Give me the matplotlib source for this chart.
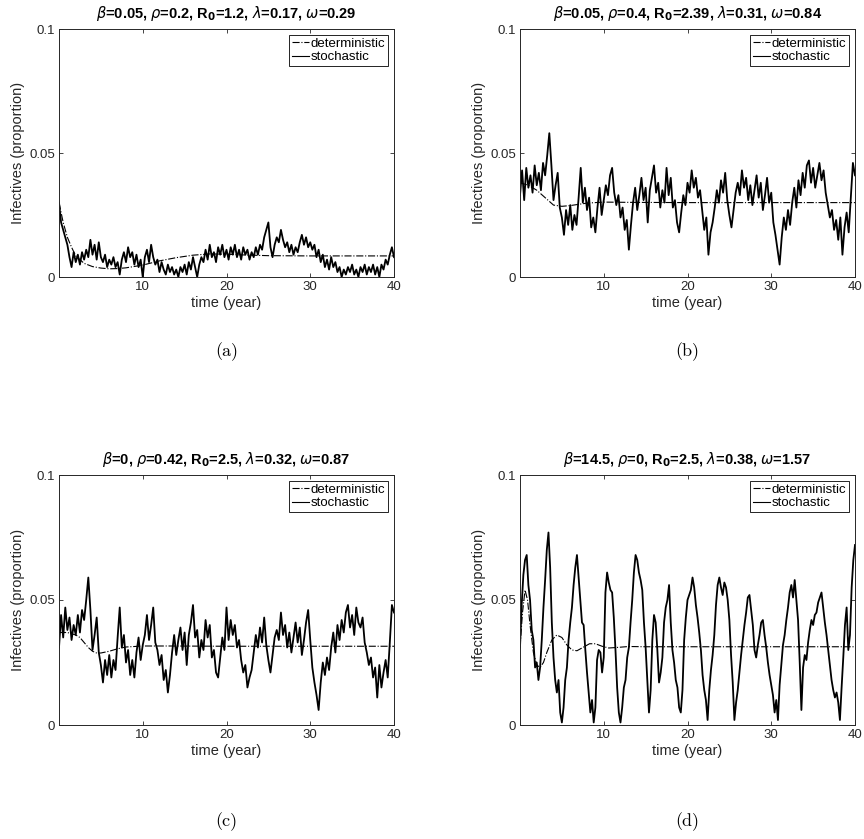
import numpy as np
import matplotlib.pyplot as plt

plt.rcParams['font.family'] = ['Liberation Sans', 'DejaVu Sans']
plt.rcParams['mathtext.fontset'] = 'dejavusans'

# Titles of the four panels
titles = [
    r"$\beta$=0.05, $\rho$=0.2, R$_\mathbf{0}$=1.2, $\lambda$=0.17, $\omega$=0.29",
    r"$\beta$=0.05, $\rho$=0.4, R$_\mathbf{0}$=2.39, $\lambda$=0.31, $\omega$=0.84",
    r"$\beta$=0, $\rho$=0.42, R$_\mathbf{0}$=2.5, $\lambda$=0.32, $\omega$=0.87",
    r"$\beta$=14.5, $\rho$=0, R$_\mathbf{0}$=2.5, $\lambda$=0.38, $\omega$=1.57",
]
captions = ["(a)", "(b)", "(c)", "(d)"]

# Deterministic curves (time, value)
det_a_t = [0, 0.5, 1, 1.5, 2, 3, 4, 5, 6, 7, 8, 10, 12, 14, 16, 18, 20, 22, 25, 30, 40]
det_a_v = [0.030, 0.022, 0.016, 0.012, 0.0085, 0.0055, 0.0042, 0.0036, 0.0033, 0.0034,
           0.0037, 0.0048, 0.0065, 0.0078, 0.0088, 0.0093, 0.0092, 0.0089, 0.0086, 0.0085, 0.0085]

det_b_t = [0, 1, 2, 3, 4, 5, 6, 7, 8, 10, 13, 20, 40]
det_b_v = [0.038, 0.037, 0.035, 0.032, 0.029, 0.0285, 0.0288, 0.0293, 0.0298, 0.0302, 0.0301, 0.030, 0.030]

det_c_t = [0, 1, 2, 2.5, 3, 3.5, 4, 4.5, 5, 6, 7, 8, 10, 13, 20, 40]
det_c_v = [0.037, 0.037, 0.036, 0.035, 0.033, 0.031, 0.0295, 0.0288, 0.0288, 0.0295,
           0.0305, 0.0312, 0.0316, 0.0316, 0.0315, 0.0315]

det_d_t = [0, 0.3, 0.6, 0.9, 1.2, 1.6, 2.0, 2.4, 2.8, 3.2, 3.8, 4.4, 5.0, 5.6, 6.2, 6.8,
           7.5, 8.3, 9.0, 9.8, 10.6, 11.5, 13, 15, 40]
det_d_v = [0.031, 0.045, 0.054, 0.050, 0.040, 0.029, 0.024, 0.023, 0.025, 0.029, 0.034,
           0.036, 0.035, 0.032, 0.030, 0.0297, 0.031, 0.0325, 0.0325, 0.0315, 0.0308,
           0.031, 0.0314, 0.0313, 0.0313]

# Stochastic paths, (a)-(c) every 0.25 year, (d) every 0.2 year
sto_a = [
    0.030, 0.022, 0.019, 0.016, 0.013, 0.008, 0.004, 0.010,
    0.006, 0.009, 0.005, 0.010, 0.007, 0.011, 0.008, 0.015,
    0.009, 0.013, 0.007, 0.014, 0.008, 0.006, 0.009, 0.004,
    0.007, 0.005, 0.008, 0.004, 0.006, 0.001, 0.007, 0.010,
    0.006, 0.012, 0.008, 0.010, 0.005, 0.009, 0.004, 0.007,
    0.000, 0.008, 0.011, 0.006, 0.013, 0.008, 0.005, 0.007,
    0.002, 0.006, 0.003, 0.001, 0.005, 0.002, 0.004, 0.001,
    0.003, 0.000, 0.004, 0.002, 0.005, 0.001, 0.006, 0.003,
    0.008, 0.004, 0.000, 0.005, 0.008, 0.006, 0.011, 0.007,
    0.013, 0.008, 0.010, 0.006, 0.012, 0.009, 0.013, 0.008,
    0.011, 0.007, 0.012, 0.009, 0.013, 0.008, 0.011, 0.007,
    0.012, 0.009, 0.011, 0.007, 0.010, 0.008, 0.012, 0.009,
    0.013, 0.011, 0.016, 0.019, 0.022, 0.012, 0.008, 0.013,
    0.016, 0.014, 0.019, 0.015, 0.012, 0.014, 0.010, 0.013,
    0.009, 0.012, 0.010, 0.014, 0.017, 0.013, 0.016, 0.012,
    0.014, 0.011, 0.013, 0.008, 0.011, 0.006, 0.009, 0.004,
    0.007, 0.003, 0.008, 0.004, 0.006, 0.002, 0.004, 0.000,
    0.003, 0.001, 0.004, 0.002, 0.005, 0.001, 0.003, 0.000,
    0.004, 0.002, 0.005, 0.001, 0.004, 0.002, 0.005, 0.001,
    0.004, 0.000, 0.005, 0.003, 0.007, 0.005, 0.009, 0.012,
    0.008,
]

sto_b = [
    0.033, 0.043, 0.031, 0.044, 0.036, 0.041, 0.034, 0.045,
    0.037, 0.042, 0.035, 0.046, 0.041, 0.049, 0.058, 0.045,
    0.031, 0.037, 0.042, 0.028, 0.024, 0.017, 0.027, 0.021,
    0.029, 0.019, 0.025, 0.021, 0.032, 0.044, 0.030, 0.036,
    0.027, 0.032, 0.020, 0.024, 0.018, 0.028, 0.036, 0.025,
    0.031, 0.037, 0.033, 0.041, 0.044, 0.034, 0.029, 0.033,
    0.024, 0.028, 0.019, 0.023, 0.011, 0.021, 0.030, 0.036,
    0.027, 0.033, 0.040, 0.031, 0.036, 0.022, 0.035, 0.040,
    0.045, 0.034, 0.038, 0.028, 0.035, 0.030, 0.044, 0.033,
    0.040, 0.028, 0.031, 0.022, 0.018, 0.026, 0.033, 0.029,
    0.038, 0.034, 0.043, 0.036, 0.040, 0.032, 0.035, 0.027,
    0.019, 0.024, 0.009, 0.018, 0.022, 0.028, 0.035, 0.030,
    0.039, 0.034, 0.042, 0.031, 0.025, 0.020, 0.027, 0.034,
    0.038, 0.033, 0.043, 0.036, 0.040, 0.031, 0.037, 0.029,
    0.035, 0.041, 0.032, 0.038, 0.027, 0.033, 0.040, 0.030,
    0.034, 0.022, 0.017, 0.011, 0.005, 0.016, 0.024, 0.019,
    0.027, 0.021, 0.030, 0.036, 0.028, 0.039, 0.033, 0.042,
    0.036, 0.045, 0.047, 0.038, 0.044, 0.036, 0.041, 0.046,
    0.039, 0.043, 0.034, 0.029, 0.024, 0.027, 0.019, 0.023,
    0.015, 0.024, 0.009, 0.020, 0.026, 0.018, 0.032, 0.046,
    0.041,
]

sto_c = [
    0.031, 0.044, 0.035, 0.047, 0.038, 0.043, 0.034, 0.040,
    0.036, 0.044, 0.037, 0.046, 0.042, 0.050, 0.059, 0.046,
    0.030, 0.036, 0.043, 0.029, 0.024, 0.017, 0.026, 0.020,
    0.028, 0.019, 0.026, 0.022, 0.035, 0.047, 0.031, 0.036,
    0.025, 0.030, 0.020, 0.026, 0.019, 0.029, 0.035, 0.026,
    0.032, 0.036, 0.044, 0.034, 0.040, 0.047, 0.033, 0.030,
    0.024, 0.028, 0.018, 0.022, 0.013, 0.020, 0.029, 0.036,
    0.028, 0.034, 0.039, 0.030, 0.037, 0.024, 0.036, 0.041,
    0.048, 0.035, 0.038, 0.027, 0.034, 0.030, 0.042, 0.035,
    0.040, 0.027, 0.030, 0.021, 0.019, 0.027, 0.035, 0.030,
    0.047, 0.034, 0.042, 0.036, 0.040, 0.031, 0.034, 0.026,
    0.021, 0.024, 0.015, 0.019, 0.022, 0.029, 0.036, 0.031,
    0.039, 0.033, 0.043, 0.032, 0.026, 0.021, 0.028, 0.035,
    0.038, 0.034, 0.045, 0.036, 0.040, 0.031, 0.037, 0.029,
    0.035, 0.041, 0.033, 0.039, 0.028, 0.034, 0.041, 0.046,
    0.034, 0.023, 0.017, 0.012, 0.006, 0.017, 0.025, 0.020,
    0.027, 0.022, 0.031, 0.037, 0.029, 0.040, 0.034, 0.042,
    0.037, 0.045, 0.048, 0.039, 0.044, 0.036, 0.047, 0.041,
    0.039, 0.043, 0.033, 0.029, 0.024, 0.027, 0.019, 0.023,
    0.011, 0.024, 0.015, 0.021, 0.026, 0.019, 0.033, 0.048,
    0.045,
]

sto_d = [
    0.031, 0.048, 0.060, 0.066, 0.068, 0.056, 0.050, 0.038, 0.034, 0.023,
    0.025, 0.018, 0.023, 0.034, 0.047, 0.058, 0.070, 0.077, 0.063, 0.041,
    0.027, 0.018, 0.013, 0.018, 0.005, 0.001, 0.007, 0.018, 0.023, 0.034,
    0.041, 0.047, 0.056, 0.063, 0.068, 0.059, 0.050, 0.041, 0.040, 0.030,
    0.021, 0.013, 0.005, 0.010, 0.001, 0.007, 0.026, 0.030, 0.029, 0.021,
    0.027, 0.053, 0.061, 0.057, 0.054, 0.053, 0.043, 0.030, 0.015, 0.005,
    0.001, 0.007, 0.015, 0.018, 0.027, 0.031, 0.041, 0.050, 0.061, 0.068,
    0.066, 0.061, 0.058, 0.054, 0.041, 0.031, 0.018, 0.005, 0.014, 0.034,
    0.044, 0.041, 0.030, 0.017, 0.021, 0.027, 0.041, 0.047, 0.050, 0.056,
    0.041, 0.030, 0.025, 0.018, 0.015, 0.007, 0.005, 0.014, 0.034, 0.043,
    0.050, 0.052, 0.054, 0.059, 0.055, 0.048, 0.043, 0.037, 0.030, 0.020,
    0.014, 0.010, 0.002, 0.014, 0.022, 0.028, 0.036, 0.048, 0.056, 0.059,
    0.055, 0.052, 0.057, 0.055, 0.050, 0.042, 0.028, 0.017, 0.002, 0.009,
    0.014, 0.021, 0.028, 0.034, 0.040, 0.045, 0.051, 0.052, 0.046, 0.040,
    0.030, 0.027, 0.032, 0.036, 0.041, 0.042, 0.036, 0.031, 0.025, 0.020,
    0.016, 0.012, 0.005, 0.010, 0.002, 0.016, 0.024, 0.032, 0.036, 0.042,
    0.047, 0.053, 0.056, 0.051, 0.058, 0.050, 0.042, 0.025, 0.006, 0.023,
    0.028, 0.026, 0.033, 0.038, 0.042, 0.040, 0.044, 0.045, 0.049, 0.051,
    0.053, 0.047, 0.041, 0.036, 0.030, 0.024, 0.018, 0.014, 0.011, 0.013,
    0.009, 0.002, 0.015, 0.027, 0.040, 0.047, 0.030, 0.036, 0.055, 0.066,
    0.072,
]

det_t = [det_a_t, det_b_t, det_c_t, det_d_t]
det_v = [det_a_v, det_b_v, det_c_v, det_d_v]
sto = [sto_a, sto_b, sto_c, sto_d]

fig = plt.figure(figsize=(8.64, 8.39), dpi=100)
W, H = 864, 839
# axes boxes in pixels: left, top, right, bottom
boxes = [(59, 29, 394, 277), (520, 29, 855, 277),
         (59, 475, 394, 725), (520, 475, 855, 725)]
cap_y = [352, 352, 822, 822]

for i in range(4):
    l, t, r, b = boxes[i]
    ax = fig.add_axes([l / W, 1 - b / H, (r - l) / W, (b - t) / H])
    s = np.array(sto[i])
    ts = np.linspace(0, 40, len(s))
    ax.plot(det_t[i], det_v[i], '-.', color='black', lw=0.8, label='deterministic')
    ax.plot(ts, s, '-', color='black', lw=1.3, label='stochastic')
    ax.set_xlim(0, 40)
    ax.set_ylim(0, 0.1)
    ax.set_xticks([10, 20, 30, 40])
    ax.set_yticks([0, 0.05, 0.1])
    ax.set_yticklabels(['0', '0.05', '0.1'])
    ax.tick_params(direction='in', length=3, width=0.6, labelsize=9.5,
                   top=True, right=True, colors='#262626', pad=3)
    for sp in ax.spines.values():
        sp.set_linewidth(0.7)
        sp.set_color('#262626')
    ax.set_xlabel('time (year)', fontsize=10.5, labelpad=2, color='#262626')
    ax.set_ylabel('Infectives (proportion)', fontsize=10.5, labelpad=3, color='#262626')
    ax.set_title(titles[i], fontsize=10.5, fontweight='bold', pad=8)
    leg = ax.legend(loc='upper right', fontsize=9.5, handlelength=1.3, handletextpad=0.15,
                    borderpad=0.2, labelspacing=0.1, fancybox=False, framealpha=1,
                    borderaxespad=0.45)
    leg.get_frame().set_edgecolor('black')
    leg.get_frame().set_linewidth(0.6)
    for ln in leg.get_lines():
        ln.set_linewidth(0.8)
    fig.text((l + r) / 2 / W, 1 - cap_y[i] / H, captions[i], ha='center', va='center',
             fontsize=13, family='cmr10')

fig.savefig('out.png', dpi=100)
